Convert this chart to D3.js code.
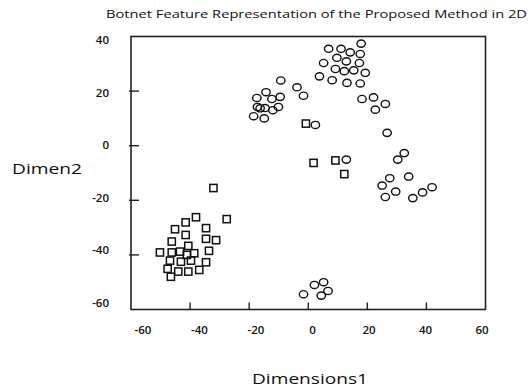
<!DOCTYPE html>
<html>
<head>
<meta charset="utf-8">
<script src="https://cdn.jsdelivr.net/npm/d3@7"></script>
<style>
  body { margin: 0; background: #fff; }
  svg text { font-family: "Open Sans", sans-serif; fill: #111; }
</style>
</head>
<body>
<svg id="chart" width="529" height="388"></svg>
<script>
// circles (first class)
var circlesX = [17.9, 6.9, 11.1, 14.2, 17.6, 9.7, 5.2, 12.9, 17.3, 9.2, 12.2, 15.4, 19.3, 3.8, 8.1, 13.1, 17.6,
    -9.3, -3.8, -1.6, -17.4, -14.3, -12.3, -9.5, -17.2, -14.6, -12.0, -10.1, -18.5, -14.9, -16.3,
    2.4, 12.9,
    18.2, 22.1, 26.1, 22.7, 26.7, 32.5, 30.3, 25.0, 27.6, 34.0, 29.6, 26.1, 35.4, 38.7, 41.9,
    -1.6, 2.1, 5.2, 6.7, 4.4];
var circlesY = [37.4, 35.5, 35.5, 34.2, 33.6, 32.2, 30.3, 30.9, 30.3, 28.1, 27.3, 27.6, 26.7, 25.4, 24.0, 23.0, 22.8,
    23.9, 21.4, 18.3, 17.5, 19.6, 17.1, 17.9, 14.2, 13.8, 13.0, 14.2, 10.8, 10.0, 13.7,
    7.6, -5.1,
    17.1, 17.7, 15.3, 13.2, 4.7, -2.7, -5.1, -14.6, -11.9, -11.3, -16.8, -18.8, -19.2, -17.1, -15.2,
    -54.4, -51.0, -50.0, -53.2, -54.9];

// squares (second class)
var squaresX = [-0.8, 1.8, 9.2, 12.2, -32.1,
    -27.6, -38.0, -41.5, -45.1, -34.6, -41.5, -34.6, -31.2, -46.2, -40.6, -50.2, -46.2, -43.4,
    -41.1, -38.6, -33.6, -46.8, -43.1, -39.7, -34.6, -47.6, -44.0, -40.6, -36.9, -46.5];
var squaresY = [8.1, -6.3, -5.4, -10.4, -15.5,
    -26.9, -26.2, -28.1, -30.6, -30.2, -32.7, -34.1, -34.6, -35.1, -36.7, -39.1, -39.1, -38.8,
    -40.0, -39.4, -38.5, -42.1, -42.5, -42.1, -42.7, -45.1, -46.1, -46.1, -45.5, -48.0];

var xTicks = [-60, -40, -20, 0, 20, 40, 60];
var yTicks = [-60, -40, -20, 0, 20, 40];

var svg = d3.select("#chart");

var x = d3.scaleLinear().domain([-60, 60]).range([131, 485.5]),
    y = d3.scaleLinear().domain([-60, 40]).range([309.5, 36.5]);
// tick labels are laid out a little tighter than the ticks themselves
var xl = d3.scaleLinear().domain([-60, 60]).range([143, 482]),
    yl = d3.scaleLinear().domain([-60, 40]).range([303, 40]);

// title
svg.append("text")
    .attr("x", 106).attr("y", 18)
    .attr("font-size", 11.5)
    .attr("textLength", 421).attr("lengthAdjust", "spacingAndGlyphs")
    .text("Botnet Feature Representation of the Proposed Method in 2D");

// frame
svg.append("rect")
    .attr("x", x(-60)).attr("y", y(40))
    .attr("width", x(60) - x(-60)).attr("height", y(-60) - y(40))
    .attr("fill", "none").attr("stroke", "#222").attr("stroke-width", 1.6);

// inward ticks
svg.append("g").selectAll("line")
    .data(xTicks.slice(1, -1))
    .enter().append("line")
    .attr("x1", function (d) { return x(d); })
    .attr("x2", function (d) { return x(d); })
    .attr("y1", y(-60)).attr("y2", y(-60) - 7)
    .attr("stroke", "#222").attr("stroke-width", 1.4);
svg.append("g").selectAll("line")
    .data(yTicks.slice(1, -1))
    .enter().append("line")
    .attr("y1", function (d) { return y(d); })
    .attr("y2", function (d) { return y(d); })
    .attr("x1", x(-60) - 2).attr("x2", x(-60) + 8)
    .attr("stroke", "#222").attr("stroke-width", 1.4);

// tick labels
svg.append("g").selectAll("text")
    .data(xTicks)
    .enter().append("text")
    .attr("x", function (d) { return xl(d); })
    .attr("y", 334)
    .attr("text-anchor", "middle")
    .attr("font-size", 11.5)
    .attr("font-weight", 600)
    .text(function (d) { return d; });
svg.append("g").selectAll("text")
    .data(yTicks)
    .enter().append("text")
    .attr("x", 109)
    .attr("y", function (d) { return yl(d) + 4; })
    .attr("text-anchor", "end")
    .attr("font-size", 11.5)
    .attr("font-weight", 600)
    .text(function (d) { return d; });

// axis titles
svg.append("text")
    .attr("x", 12).attr("y", 174)
    .attr("font-size", 14.5)
    .attr("textLength", 70).attr("lengthAdjust", "spacingAndGlyphs")
    .text("Dimen2");
svg.append("text")
    .attr("x", 252).attr("y", 384)
    .attr("font-size", 14.5)
    .attr("textLength", 116).attr("lengthAdjust", "spacingAndGlyphs")
    .text("Dimensions1");

// markers
svg.append("g").selectAll("ellipse")
    .data(d3.range(circlesX.length))
    .enter().append("ellipse")
    .attr("cx", function (i) { return x(circlesX[i]); })
    .attr("cy", function (i) { return y(circlesY[i]); })
    .attr("rx", 4.2).attr("ry", 3.6)
    .attr("fill", "none").attr("stroke", "#111").attr("stroke-width", 1.4);

svg.append("g").selectAll("rect")
    .data(d3.range(squaresX.length))
    .enter().append("rect")
    .attr("x", function (i) { return x(squaresX[i]) - 3.6; })
    .attr("y", function (i) { return y(squaresY[i]) - 3.6; })
    .attr("width", 7.2).attr("height", 7.2)
    .attr("fill", "none").attr("stroke", "#111").attr("stroke-width", 1.5);
</script>
</body>
</html>
